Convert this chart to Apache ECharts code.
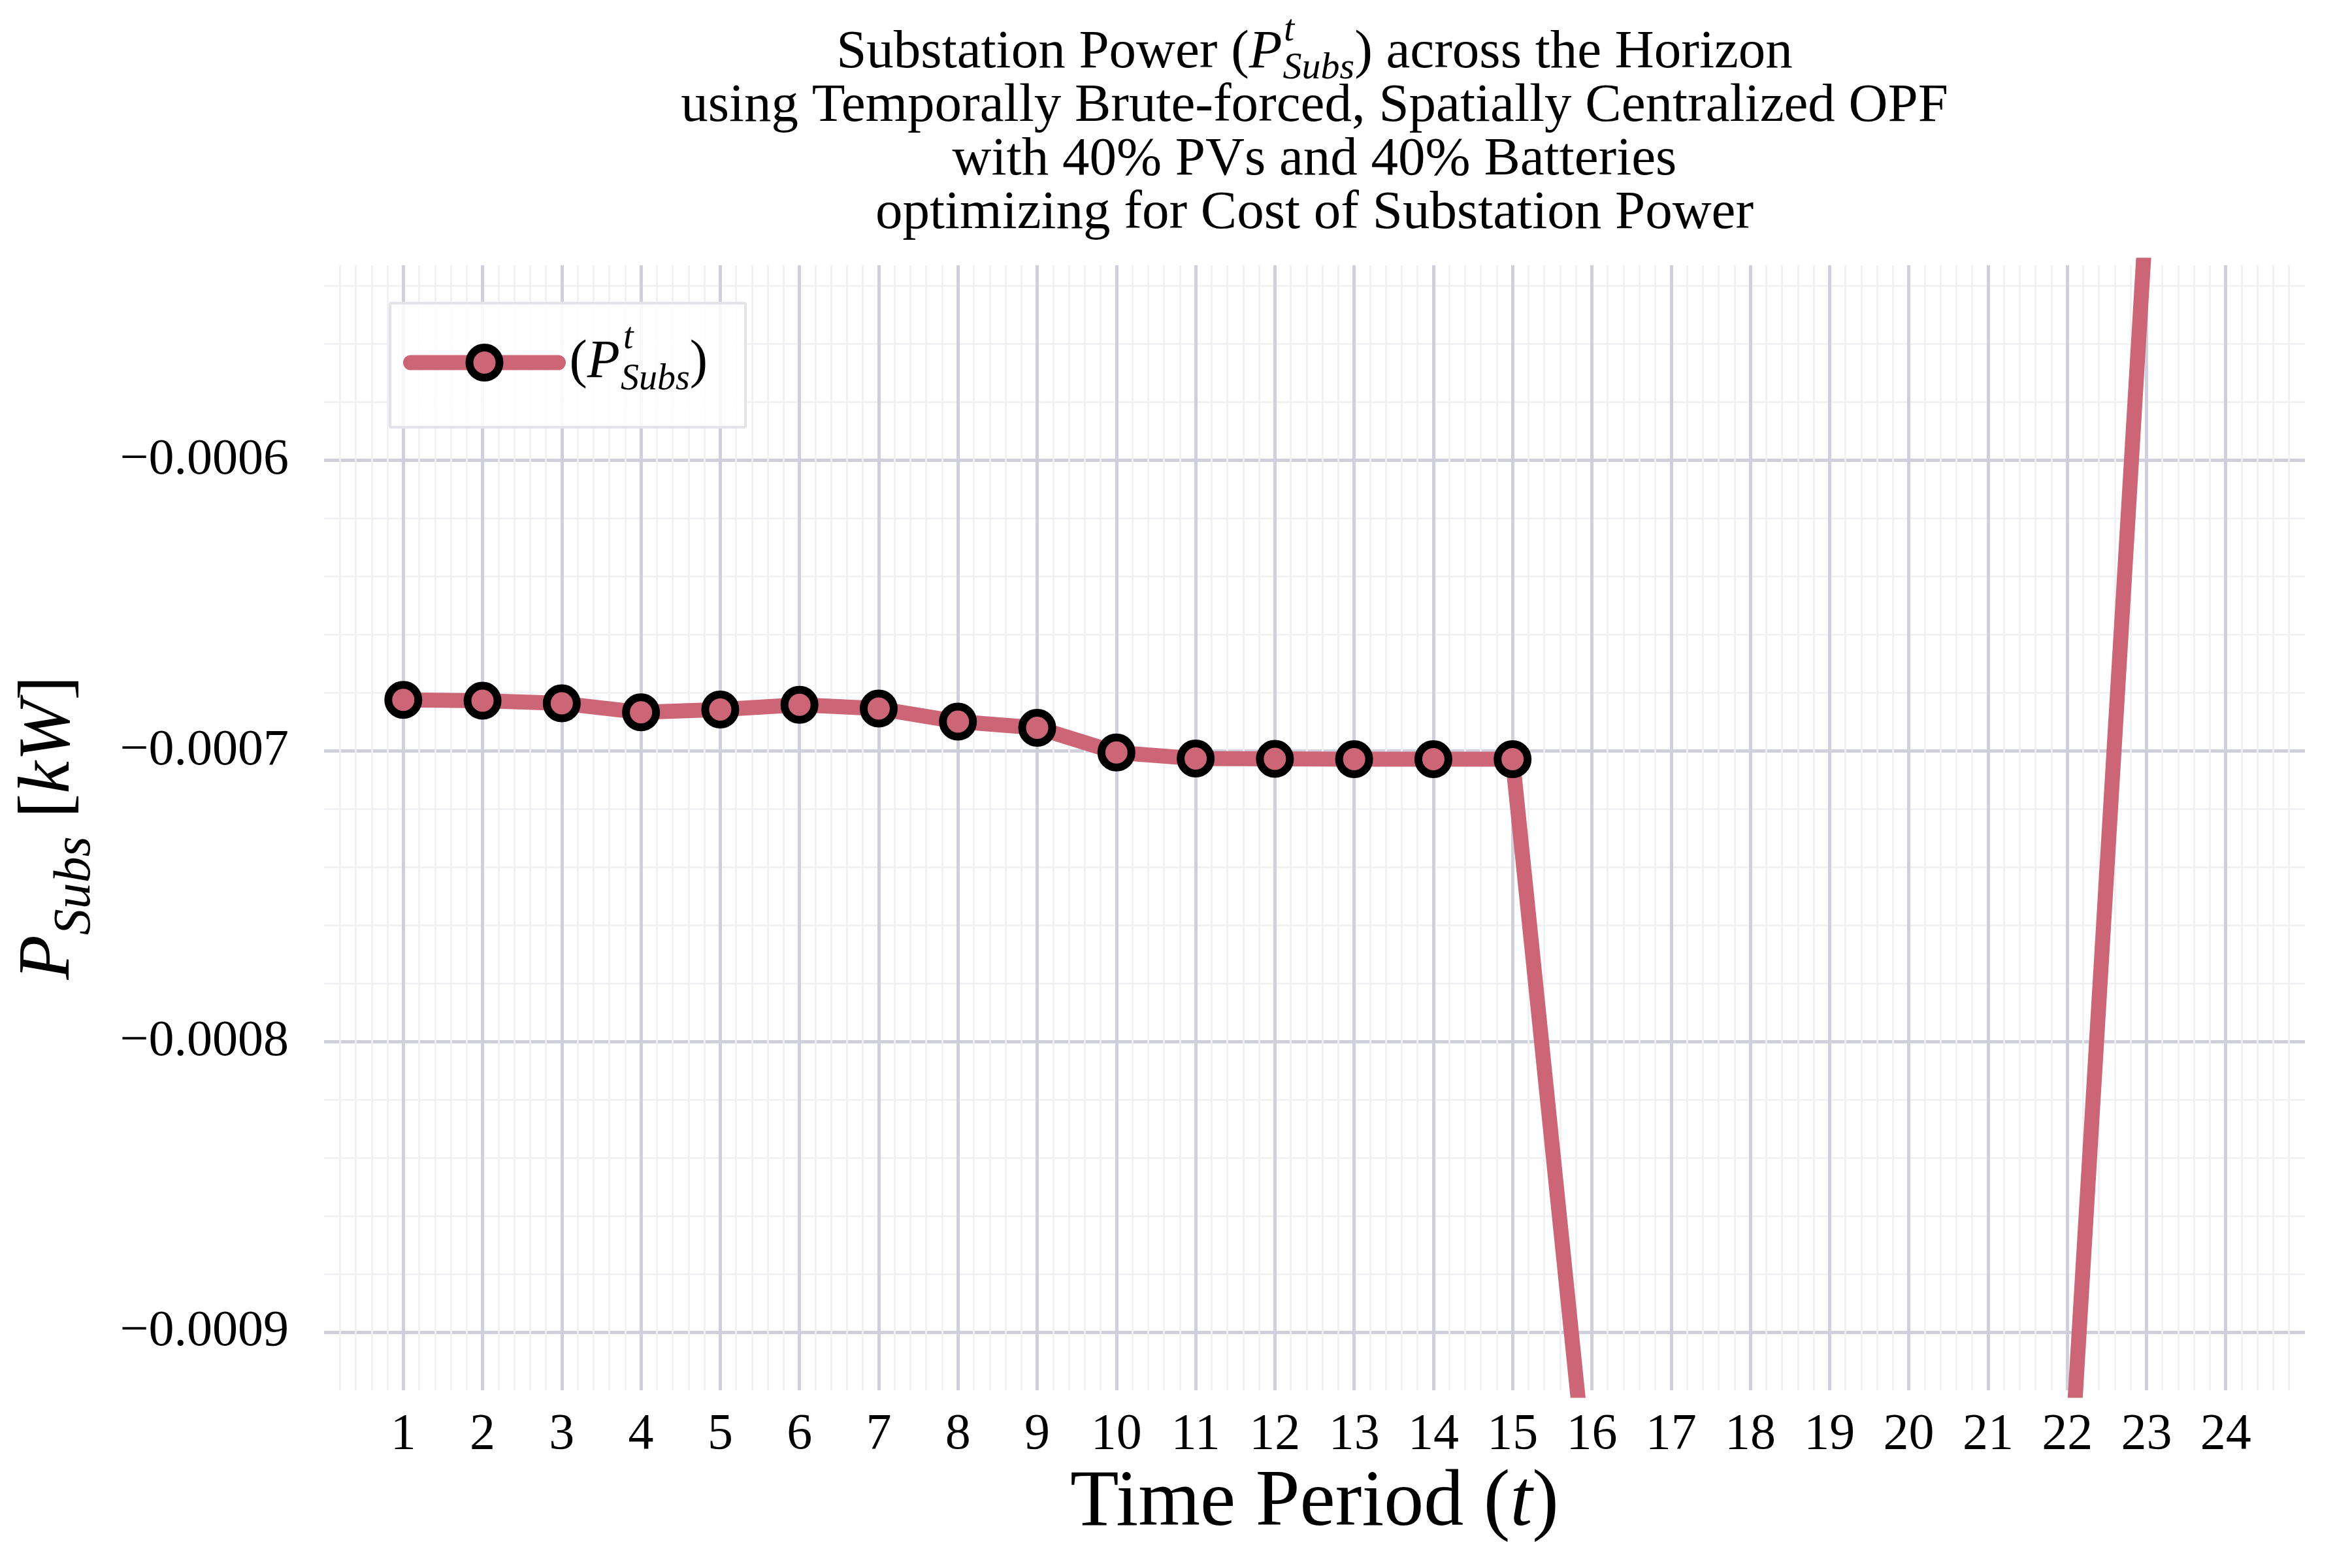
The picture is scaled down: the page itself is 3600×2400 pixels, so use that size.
<!DOCTYPE html>
<html>
<head>
<meta charset="utf-8">
<script src="https://cdn.jsdelivr.net/npm/echarts@6/dist/echarts.min.js"></script>
<style>
  html, body { margin: 0; padding: 0; background: #fff; }
  #chart { width: 3600px; height: 2400px; }
</style>
</head>
<body>
<div id="chart"></div>
<script>
// time periods on the x axis
const periods = [1, 2, 3, 4, 5, 6, 7, 8, 9, 10, 11, 12, 13, 14, 15, 16, 17, 18, 19, 20, 21, 22, 23, 24];
// substation power [kW] (16-22 and 23-24 lie outside the visible range)
const pSubs = [
  -0.0006825, -0.0006828, -0.0006837, -0.0006868, -0.0006858, -0.0006842,
  -0.0006855, -0.0006900, -0.0006921, -0.0007006, -0.0007027, -0.0007028,
  -0.0007029, -0.0007029, -0.0007029, -0.000969, -0.000969, -0.000969,
  -0.000969, -0.000969, -0.000969, -0.000968, -0.000514, -0.000514
];
const xRange = [0, 25];
const yRange = [-0.00092, -0.000533];

const serif = 'Liberation Serif';
const rose = '#CC6677';

function fmtY(v) {
  return (v < 0 ? '\u2212' : '') + Math.abs(v).toFixed(4);
}

// rich text styles for the little math bits: P^t_Subs
function mathStyles(size, lh, subSize, supH, subH, supShift) {
  const base = { fontFamily: serif, fontWeight: 'normal', color: '#000', lineHeight: lh };
  return {
    n: Object.assign({}, base, { fontSize: size }),
    i: Object.assign({}, base, { fontSize: size, fontStyle: 'italic' }),
    sup: Object.assign({}, base, { fontSize: subSize, fontStyle: 'italic', verticalAlign: 'top', height: supH,
           width: 1, padding: [0, -supShift, 0, supShift] }),
    sub: Object.assign({}, base, { fontSize: subSize, fontStyle: 'italic', verticalAlign: 'bottom', height: subH })
  };
}

const chart = echarts.init(document.getElementById('chart'));

chart.setOption({
  animation: false,
  backgroundColor: '#fff',
  title: {
    text: '{n|Substation Power (}{i|P}{sup|t}{sub|Subs}{n|) across the Horizon}\n' +
          '{n|using Temporally Brute-forced, Spatially Centralized OPF}\n' +
          '{n|with 40% PVs and 40% Batteries}\n' +
          '{n|optimizing for Cost of Substation Power}',
    left: 2012,
    top: 40,
    padding: 0,
    textAlign: 'center',
    textStyle: { fontWeight: 'normal', fontFamily: serif, rich: mathStyles(83, 82, 58, 14, 34, 10) }
  },
  legend: {
    left: 597,
    top: 464,
    padding: [26, 58, 45, 20],
    backgroundColor: 'rgba(255,255,255,0.85)',
    borderColor: '#e3e3ea',
    borderWidth: 4,
    borderRadius: 2,
    itemWidth: 226,
    itemHeight: 57.5,
    lineStyle: { width: 23, cap: 'round' },
    itemStyle: { borderWidth: 12 },
    formatter: () => '{n|(}{i|P}{sup|t}{sub|Subs}{n|)}',
    textStyle: { padding: [0, 0, 0, 12], rich: mathStyles(82, 84, 56, 10, 32, 5) },
    data: ['P']
  },
  grid: { left: 496, right: 72, top: 406, bottom: 272, containLabel: false },
  xAxis: {
    type: 'value',
    min: xRange[0],
    max: xRange[1],
    interval: 1,
    name: 'Time Period ({i|t}{n|)}',
    nameLocation: 'middle',
    nameGap: 104,
    nameTextStyle: {
      fontFamily: serif, fontSize: 122, color: '#000',
      rich: {
        i: { fontFamily: serif, fontSize: 122, fontStyle: 'italic', color: '#000' },
        n: { fontFamily: serif, fontSize: 122, color: '#000' }
      }
    },
    axisLine: { show: false },
    axisTick: { show: false },
    axisLabel: {
      showMinLabel: false, showMaxLabel: false,
      margin: 30, fontFamily: serif, fontSize: 78, color: '#000',
      formatter: v => String(v)
    },
    splitLine: { show: true, showMinLine: false, showMaxLine: false, lineStyle: { color: '#d0d0dc', width: 5 } },
    minorTick: { show: false, splitNumber: 5 },
    minorSplitLine: { show: true, lineStyle: { color: '#f0f0f4', width: 2.7 } }
  },
  yAxis: {
    type: 'value',
    min: yRange[0],
    max: yRange[1],
    splitNumber: 4,
    name: '{i|P}{sub|Subs}{n| [}{i|kW}{n|]}',
    nameLocation: 'middle',
    nameRotate: 90,
    nameGap: 360,
    nameTextStyle: { rich: mathStyles(112, 120, 80, 20, 40, 0) },
    axisLine: { show: false },
    axisTick: { show: false },
    axisLabel: {
      showMinLabel: false, showMaxLabel: false,
      margin: 54, fontFamily: serif, fontSize: 78, color: '#000',
      formatter: fmtY
    },
    splitLine: { show: true, showMinLine: false, showMaxLine: false, lineStyle: { color: '#d0d0dc', width: 5 } },
    minorTick: { show: false, splitNumber: 5 },
    minorSplitLine: { show: true, lineStyle: { color: '#f0f0f4', width: 2.7 } }
  },
  series: [{
    name: 'P',
    type: 'line',
    data: periods.map((t, k) => [t, pSubs[k]]),
    clip: true,
    showAllSymbol: true,
    symbol: 'circle',
    symbolSize: 46,
    lineStyle: { color: rose, width: 23, join: 'round', cap: 'round' },
    itemStyle: { color: rose, borderColor: '#000', borderWidth: 12 },
    emphasis: { disabled: true }
  }]
});
</script>
</body>
</html>
